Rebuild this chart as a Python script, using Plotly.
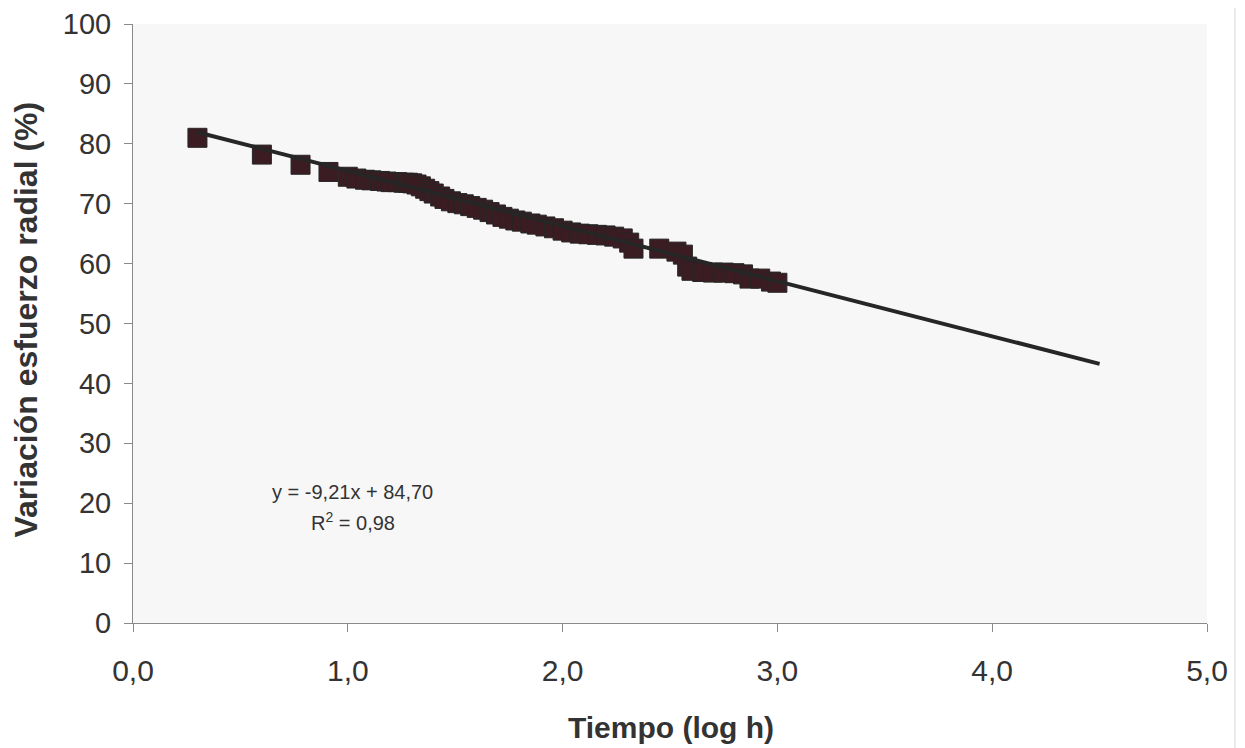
import plotly.graph_objects as go

# Data (log10 of time in hours, % variation of radial stress)
log_time = [0.30, 0.60, 0.78, 0.91, 1.00, 1.04, 1.08, 1.11, 1.15, 1.18, 1.20, 1.23, 1.26,
            1.28, 1.30, 1.32, 1.34, 1.36, 1.38, 1.40, 1.43, 1.45, 1.48, 1.51, 1.54, 1.57,
            1.60, 1.63, 1.66, 1.69, 1.72, 1.75, 1.78, 1.81, 1.85, 1.88, 1.92, 1.96, 2.00,
            2.04, 2.08, 2.12, 2.16, 2.20, 2.24, 2.28, 2.31, 2.33, 2.45, 2.53, 2.56, 2.58,
            2.60, 2.65, 2.70, 2.75, 2.80, 2.84, 2.87, 2.92, 2.97, 3.00]
variation = [81.0, 78.2, 76.5, 75.3, 74.5, 74.2, 74.0, 73.9, 73.8, 73.7, 73.6, 73.6, 73.5,
             73.5, 73.4, 73.2, 72.9, 72.5, 72.1, 71.7, 71.2, 70.8, 70.4, 70.1, 69.9, 69.6,
             69.3, 69.0, 68.6, 68.2, 67.8, 67.5, 67.2, 67.0, 66.7, 66.5, 66.2, 65.9, 65.5,
             65.2, 65.0, 64.9, 64.8, 64.7, 64.5, 64.2, 63.5, 62.5, 62.5, 62.0, 61.5, 59.5,
             58.8, 58.6, 58.5, 58.5, 58.4, 58.2, 57.5, 57.5, 57.0, 56.8]

slope = -9.21
intercept = 84.70
trend_x = [0.30, 4.50]
trend_y = [slope * x + intercept for x in trend_x]

x_ticks = [0, 1, 2, 3, 4, 5]
y_ticks = [0, 10, 20, 30, 40, 50, 60, 70, 80, 90, 100]

FONT = "Liberation Sans, Arial, sans-serif"
TXT = "#333333"

fig = go.Figure()
fig.add_trace(go.Scatter(
    x=log_time, y=variation, mode="markers",
    marker=dict(symbol="square", size=19, color="#3b1c22",
                line=dict(color="#262626", width=1)),
    showlegend=False, hoverinfo="x+y"))
fig.add_trace(go.Scatter(
    x=trend_x, y=trend_y, mode="lines",
    line=dict(color="#262626", width=4),
    showlegend=False))

# trendline equation
fig.add_annotation(x=1.024, y=21.9, xref="x", yref="y", text="y = -9,21x + 84,70",
                   showarrow=False, font=dict(size=20, color=TXT, family=FONT))
fig.add_annotation(x=1.024, y=17.0, xref="x", yref="y", text="R<sup>2</sup> = 0,98",
                   showarrow=False, font=dict(size=20, color=TXT, family=FONT))

# axis titles
fig.add_annotation(x=0.501, y=-0.175, xref="paper", yref="paper", text="<b>Tiempo (log h)</b>",
                   showarrow=False, xanchor="center", yanchor="middle",
                   font=dict(size=30, color=TXT, family=FONT))
fig.add_annotation(x=-0.1, y=0.506, xref="paper", yref="paper",
                   text="<b>Variación esfuerzo radial (%)</b>", textangle=-90,
                   showarrow=False, xanchor="center", yanchor="middle",
                   font=dict(size=32, color=TXT, family=FONT))

# faint scan border at the right
fig.add_shape(type="line", xref="paper", yref="paper", x0=1.026, x1=1.026, y0=-0.25, y1=1.05,
              line=dict(color="#d8d8d8", width=1))

fig.update_layout(
    width=1229, height=740,
    margin=dict(l=125, r=30, t=16, b=125),
    paper_bgcolor="white",
    plot_bgcolor="#f7f7f7",
    separators=",.",
    font=dict(family=FONT, color=TXT),
    xaxis=dict(
        range=[0, 5], tickvals=x_ticks, tickformat=".1f",
        showgrid=False, zeroline=False, automargin=False,
        showline=True, linecolor="#8a8a8a", linewidth=1,
        ticks="outside", ticklen=8, tickcolor="#8a8a8a",
        ticklabelstandoff=13,
        tickfont=dict(size=30, color=TXT, family=FONT),
    ),
    yaxis=dict(
        range=[0, 100], tickvals=y_ticks,
        showgrid=False, zeroline=False, automargin=False,
        showline=True, linecolor="#8a8a8a", linewidth=1,
        ticks="outside", ticklen=8, tickcolor="#8a8a8a",
        ticklabelstandoff=7,
        tickfont=dict(size=29, color=TXT, family=FONT),
    ),
)

fig.write_html("out.html")
